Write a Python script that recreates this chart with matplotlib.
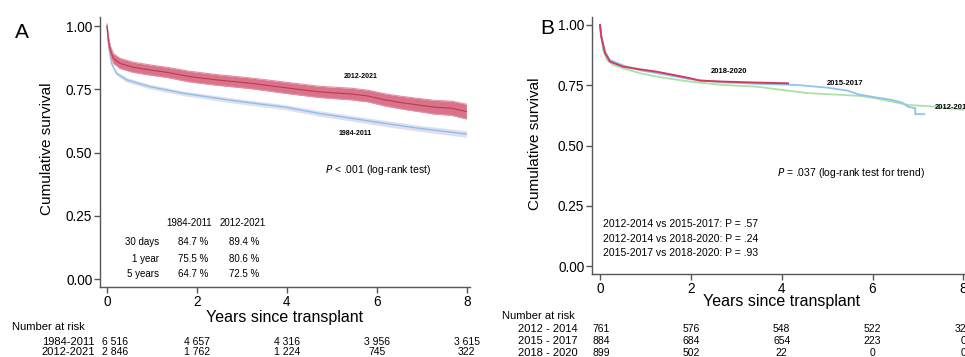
#!/usr/bin/env python3

import numpy as np
import matplotlib
matplotlib.use("Agg")
import matplotlib.pyplot as plt
from matplotlib.transforms import blended_transform_factory


# ============================================================
# DATA
# ============================================================

# Panel A: two eras with confidence bands
t_early = [0, 0.05, 0.10, 0.21, 0.44, 0.96, 1.70, 2.81, 3.97, 4.70, 5.44, 6.18, 6.92, 7.99]
s_early = [1.0, 0.905, 0.852, 0.813, 0.787, 0.760, 0.734, 0.705, 0.679, 0.655, 0.635, 0.615, 0.596, 0.573]
ci_early = [0.004, 0.008, 0.008, 0.008, 0.009, 0.009, 0.009, 0.010, 0.010, 0.011, 0.011, 0.012, 0.012, 0.013]

t_recent = [0, 0.03, 0.07, 0.14, 0.29, 0.58, 0.96, 1.33, 1.84, 2.44, 3.18, 3.97, 4.70, 5.44,
            5.81, 6.18, 6.55, 6.92, 7.29, 7.66, 7.99]
s_recent = [1.0, 0.945, 0.905, 0.872, 0.852, 0.837, 0.826, 0.817, 0.800, 0.787, 0.774, 0.756,
            0.740, 0.731, 0.723, 0.708, 0.697, 0.688, 0.679, 0.675, 0.662]
ci_recent = [0.008, 0.015, 0.018, 0.019, 0.020, 0.020, 0.020, 0.020, 0.021, 0.021, 0.021, 0.022,
             0.022, 0.023, 0.023, 0.024, 0.025, 0.026, 0.027, 0.028, 0.029]

era_labels = ["1984-2011", "2012-2021"]
stat_rows = ["30 days", "1 year", "5 years"]
stat_early = ["84.7 %", "75.5 %", "64.7 %"]
stat_recent = ["89.4 %", "80.6 %", "72.5 %"]

risk_times = [0, 2, 4, 6, 8]
risk_early = ["6 516", "4 657", "4 316", "3 956", "3 615"]
risk_recent = ["2 846", "1 762", "1 224", "745", "322"]

# Panel B: three recent periods
t_p1 = [0, 0.03, 0.07, 0.15, 0.29, 0.51, 0.88, 1.25, 1.61, 1.98, 2.71, 3.45, 3.90, 4.59,
        5.33, 5.75, 6.06, 6.43, 6.79, 7.16, 7.53, 8.0]
s_p1 = [1.0, 0.95, 0.896, 0.855, 0.834, 0.820, 0.800, 0.786, 0.775, 0.765, 0.751, 0.744,
        0.733, 0.717, 0.710, 0.705, 0.696, 0.682, 0.668, 0.664, 0.658, 0.648]

t_p2 = [0, 0.03, 0.11, 0.22, 0.51, 0.88, 1.25, 1.61, 1.98, 2.71, 3.45, 4.34, 5.00, 5.44,
        5.69, 6.06, 6.43, 6.65, 6.79, 6.94, 6.94, 7.14]
s_p2 = [1.0, 0.95, 0.89, 0.855, 0.832, 0.812, 0.800, 0.788, 0.775, 0.762, 0.756, 0.751,
        0.740, 0.728, 0.712, 0.700, 0.689, 0.678, 0.660, 0.655, 0.630, 0.630]

t_p3 = [0, 0.03, 0.11, 0.22, 0.51, 0.88, 1.25, 1.61, 1.98, 2.20, 2.71, 3.45, 4.14]
s_p3 = [1.0, 0.95, 0.884, 0.848, 0.827, 0.816, 0.806, 0.793, 0.779, 0.769, 0.765, 0.761, 0.758]

period_labels = ["2012 - 2014", "2015 - 2017", "2018 - 2020"]
risk_p1 = ["761", "576", "548", "522", "322"]
risk_p2 = ["884", "684", "654", "223", "0"]
risk_p3 = ["899", "502", "22", "0", "0"]

pair_tests = [
    "2012-2014 vs 2015-2017: P = .57",
    "2012-2014 vs 2018-2020: P = .24",
    "2015-2017 vs 2018-2020: P = .93",
]

# colours
RED_BAND = "#da7389"
RED_EDGE = "#e48fa1"
RED_LINE = "#b83a58"
BLUE_BAND = "#dfdff2"
BLUE_LINE = "#8fbfe6"
C_P1 = "#ade0a8"
C_P2 = "#8ec4ee"
C_P3 = "#d23c5a"
SPINE = "#555555"

W, H = 965, 357


# ============================================================
# HELPERS
# ============================================================

def style_axes(ax, xlim, ylim):
    ax.set_xlim(*xlim)
    ax.set_ylim(*ylim)
    for s in ("top", "right"):
        ax.spines[s].set_visible(False)
    for s in ("left", "bottom"):
        ax.spines[s].set_color(SPINE)
        ax.spines[s].set_linewidth(1.0)
    ax.set_xticks([0, 2, 4, 6, 8])
    ax.set_xticklabels(["0", "2", "4", "6", "8"])
    ax.set_yticks([0, 0.25, 0.5, 0.75, 1.0])
    ax.set_yticklabels(["0.00", "0.25", "0.50", "0.75", "1.00"])
    ax.tick_params(axis="both", colors=SPINE, labelcolor="black",
                   length=4, width=1, labelsize=9.8, pad=1.5)


def px_x(px):
    return px / W


def px_y(py):
    return 1 - py / H


def risk_table(fig, ax, title_xy, label_right, rows, x_first):
    """Number-at-risk block under an axes; first column left aligned at the spine."""
    tr = blended_transform_factory(ax.transData, fig.transFigure)
    fig.text(px_x(title_xy[0]), px_y(title_xy[1]), "Number at risk",
             fontsize=8, ha="left", va="center")
    for lab, vals, y in rows:
        fig.text(px_x(label_right), px_y(y), lab, fontsize=8, ha="right", va="center")
        for t, v in zip(risk_times, vals):
            if t == 0:
                ax.text(x_first, px_y(y), v, transform=tr, fontsize=7.5,
                        ha="left", va="center")
            else:
                ax.text(t, px_y(y), v, transform=tr, fontsize=7.5,
                        ha="center", va="center")


# ============================================================
# MAIN
# ============================================================

def main():
    plt.rcParams["font.family"] = ["Liberation Sans", "DejaVu Sans"]

    fig = plt.figure(figsize=(W / 100, H / 100), dpi=100)

    # ---------------- Panel A ----------------
    axA = fig.add_axes([px_x(100), px_y(287), 370 / W, 270 / H])
    style_axes(axA, (-0.156, 8.07), (-0.0316, 1.0356))

    te, se, ce = map(np.array, (t_early, s_early, ci_early))
    tr, sr, cr = map(np.array, (t_recent, s_recent, ci_recent))

    axA.fill_between(te, se - ce, se + ce, color=BLUE_BAND, lw=0)
    axA.plot(te, se, color=BLUE_LINE, lw=1.0)
    axA.fill_between(tr, sr - cr, sr + cr, color=RED_BAND, lw=0)
    axA.plot(tr, sr + cr, color=RED_EDGE, lw=0.8)
    axA.plot(tr, sr - cr, color=RED_EDGE, lw=0.8)
    axA.plot(tr, sr, color=RED_LINE, lw=0.8)

    axA.text(5.64, 0.80, era_labels[1], fontsize=5, fontweight="bold", ha="center", va="center")
    axA.text(5.51, 0.577, era_labels[0], fontsize=5, fontweight="bold", ha="center", va="center")
    axA.text(4.84, 0.43, "$P$ < .001 (log-rank test)", fontsize=7.5, ha="left", va="center")

    # survival table
    axA.text(1.82, 0.221, era_labels[0], fontsize=7, ha="center", va="center")
    axA.text(3.02, 0.221, era_labels[1], fontsize=7, ha="center", va="center")
    for lab, a, b, y in zip(stat_rows, stat_early, stat_recent, [0.146, 0.079, 0.020]):
        axA.text(1.16, y, lab, fontsize=7, ha="right", va="center")
        axA.text(1.91, y, a, fontsize=7, ha="center", va="center")
        axA.text(3.04, y, b, fontsize=7, ha="center", va="center")

    axA.set_xlabel("Years since transplant", fontsize=11.5, labelpad=1)
    fig.text(px_x(47), px_y(149), "Cumulative survival", rotation=90,
             fontsize=11, ha="center", va="center")
    fig.text(px_x(22), px_y(33), "A", fontsize=15, ha="center", va="center")

    risk_table(fig, axA, (12, 327), 95,
               [(era_labels[0], risk_early, 342), (era_labels[1], risk_recent, 352)],
               x_first=-0.12)

    # ---------------- Panel B ----------------
    axB = fig.add_axes([px_x(592), px_y(274), 380 / W, 257 / H])
    style_axes(axB, (-0.176, 8.19), (-0.033, 1.033))

    axB.plot(t_p1, s_p1, color=C_P1, lw=1.3)
    axB.plot(t_p2, s_p2, color=C_P2, lw=1.3)
    axB.plot(t_p3, s_p3, color=C_P3, lw=1.4)

    axB.text(2.83, 0.805, "2018-2020", fontsize=5.5, fontweight="bold", ha="center", va="center")
    axB.text(5.40, 0.759, "2015-2017", fontsize=5.5, fontweight="bold", ha="center", va="center")
    axB.text(7.38, 0.656, "2012-2014", fontsize=5.5, fontweight="bold", ha="left", va="center",
             clip_on=False)
    axB.text(3.90, 0.386, "$P$ = .037 (log-rank test for trend)", fontsize=7.5,
             ha="left", va="center")
    for s, y in zip(pair_tests, [0.174, 0.112, 0.054]):
        axB.text(0.07, y, s, fontsize=7.5, ha="left", va="center")

    axB.set_xlabel("Years since transplant", fontsize=11.5, labelpad=-1)
    fig.text(px_x(535), px_y(144), "Cumulative survival", rotation=90,
             fontsize=11, ha="center", va="center")
    fig.text(px_x(547), px_y(29), "B", fontsize=15, ha="center", va="center")

    risk_table(fig, axB, (502, 316), 578,
               [(period_labels[0], risk_p1, 329), (period_labels[1], risk_p2, 341),
                (period_labels[2], risk_p3, 353)],
               x_first=-0.17)

    fig.savefig("out.png", dpi=100)
    plt.close(fig)


if __name__ == "__main__":
    main()
